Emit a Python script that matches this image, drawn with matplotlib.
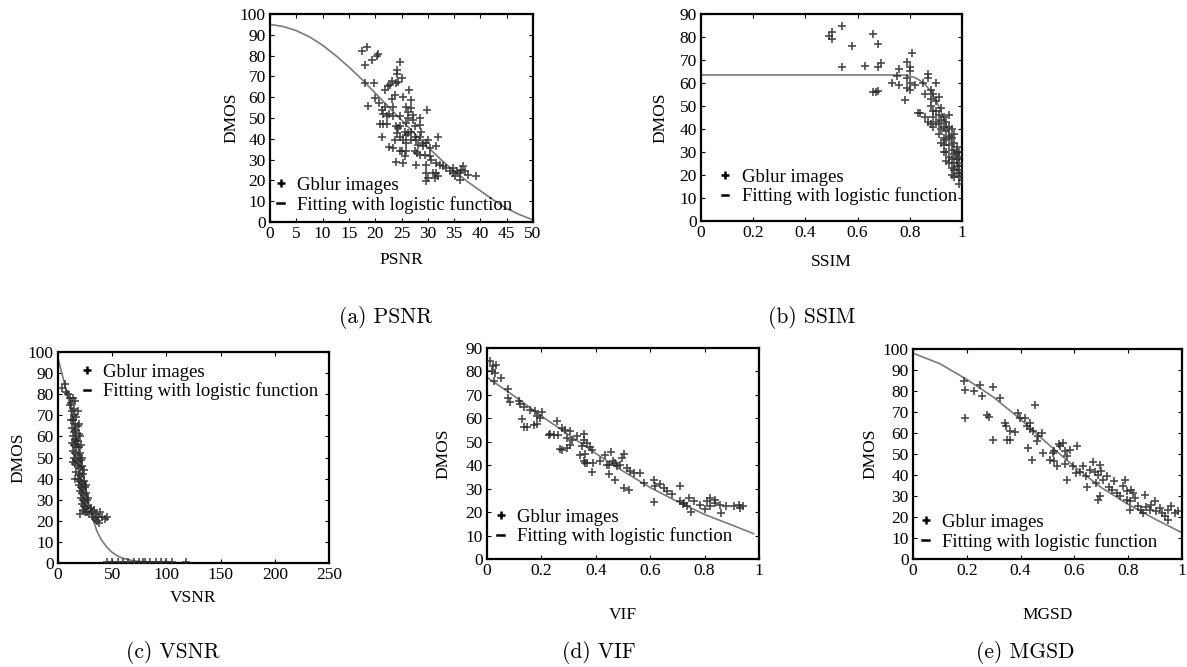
import matplotlib
matplotlib.use('Agg')
import matplotlib.pyplot as plt
from matplotlib.lines import Line2D
from matplotlib.ticker import FuncFormatter

plt.rcParams['font.family'] = ['Liberation Serif', 'DejaVu Serif']
plt.rcParams['font.size'] = 12

# ---------------- data ----------------
psnr_pts = [(17.5,82),(18.4,84.3),(18,75.5),(19.3,78),(20.4,80),(20.6,81),(18,67),(19.7,67),(18.7,56),
            (19.9,59.5),(20.8,57),(21.2,54),(20.9,47),(21.5,47),(21.3,41),(21.4,52),(21.8,55.5),(22.2,51),
            (22.2,47),(21.8,63.5),(22.5,65.5),(22.9,66),(23.1,68),(23.1,59),(23.4,55.5),(23.7,61),(23.9,67),
            (24.1,71),(24.4,67.5),(24.7,77),(24.1,73),(25,69),(25.2,60),(24.7,51),(23.4,51),(22.7,36),
            (23.4,35.5),(23.7,39.5),(24.1,43),(24.4,45),(24.7,46),(24,46),(24.7,41),(25.2,39.5),(25,34),
            (24,29),(25.3,28.6),(25.6,31.5),(25.9,34),(25.8,38),(25.9,42),(25.6,43.5),(26.3,42.7),(25.9,47.5),
            (26.3,50),(25.8,55.5),(26.3,53),(26.9,54.7),(26.5,63.5),(26.9,58.7),(27.2,51.5),(27.2,49),(27.5,46),
            (26.9,43.5),(27.5,41),(27.8,39.5),(26.9,39.5),(28.2,37),(27.5,34),(28,33),(27.8,27.5),(28.5,32.3),
            (28.5,46.7),(28.5,50),(28.8,43.5),(29.1,38),(29.1,36.3),(29.7,38),(29.4,32.3),(29.7,27.5),
            (29.7,23.5),(30,21),(29.7,19.5),(29.9,54),(30,39.5),(30.4,35.5),(30.5,31.5),(30.7,30),(31,23.5),
            (31.3,21),(31.6,23.5),(32,22),(31.6,36.3),(32,41),(31.6,28.3),(32.3,27.5),(32.9,26.7),(33.5,26),
            (34.2,24.3),(34.8,23.5),(35.1,22),(35.6,24.3),(36.1,23.5),(36.4,25),(36.7,26.7),(37,24.3),
            (36.1,20.3),(37.7,22.7),(39.2,22),(34.8,26),(28.5,41),(24.7,34),(22.7,52)]
psnr_fit_x = [0, 2.5, 5, 7.5, 10, 12.5, 15, 17.5, 20, 22.5, 25, 27.5, 30, 32.5, 35, 37.5, 40, 42.5, 45, 47.5, 50]
psnr_fit_y = [95, 94, 92, 89, 85, 80, 74.5, 68.5, 62, 55.5, 49, 42.5, 36, 30, 24.5, 19.5, 15, 10.5, 6.5, 3.5, 1]

ssim_pts = [(0.49,80.5),(0.50,82),(0.50,79),(0.54,85),(0.54,67),(0.58,76),(0.63,67.5),(0.66,81.5),(0.68,77),
            (0.68,67),(0.69,68.5),(0.66,56),(0.67,56),(0.68,56.5),(0.73,60),(0.75,63),(0.76,66),(0.76,59),
            (0.78,52.5),(0.79,62),(0.79,69),(0.80,67),(0.80,65),(0.80,60),(0.81,73),(0.79,58),(0.80,57),
            (0.82,59),(0.83,47),(0.84,47),(0.85,60),(0.86,55),(0.87,62),(0.87,64),(0.88,57),(0.88,50),
            (0.88,53),(0.89,55),(0.89,45),(0.88,42),(0.89,41),(0.90,52),(0.90,48),(0.90,43),(0.91,54),
            (0.91,46),(0.92,49),(0.92,44),(0.92,40),(0.91,38),(0.93,45),(0.93,41),(0.93,36),(0.93,33),
            (0.94,43),(0.94,39),(0.94,35),(0.94,30),(0.95,41),(0.95,37),(0.95,33),(0.95,28),(0.96,40),
            (0.96,36),(0.96,31),(0.96,27),(0.97,34),(0.97,29),(0.97,25),(0.97,22),(0.98,30),(0.98,27),
            (0.98,24),(0.98,21),(0.99,28),(0.99,25),(0.99,22),(0.99,19),(1.0,24),(1.0,21),(1.0,18),
            (0.90,60),(0.92,34),(0.94,26),(0.96,23),(0.95,46),(0.93,30),(0.97,38),(0.98,32),(0.99,30),
            (0.91,42),(0.89,48),(0.87,43),(0.86,45),(0.95,25),(0.96,20),(0.97,19),(0.99,16)]
ssim_fit_x = [0, 0.2, 0.4, 0.6, 0.75, 0.78, 0.80, 0.82, 0.84, 0.86, 0.88, 0.90, 0.92, 0.94, 0.96, 0.98, 1.0]
ssim_fit_y = [63.5, 63.5, 63.5, 63.5, 63.5, 63.4, 63.0, 62.3, 61.0, 59.2, 56.5, 52.5, 47.5, 41.5, 34.5, 26.5, 17]

vsnr_pts = [(4,83),(6,85),(7,81),(9,80),(11,78),(14,78),(16,77),(12,76),(13,72),(15,70),(14,68),(17,69),
            (16,66),(18,65),(13,64),(15,62),(17,63),(19,61),(14,60),(16,59),(18,58),(20,60),(13,57),(15,56),
            (17,55),(19,55),(21,56),(14,53),(16,52),(18,51),(20,52),(15,50),(17,49),(19,48),(21,49),(16,47),
            (18,46),(20,45),(22,46),(17,43),(19,42),(21,41),(23,42),(18,40),(20,39),(22,38),(24,39),(19,37),
            (21,36),(23,35),(25,36),(20,34),(22,33),(24,32),(26,33),(21,31),(23,30),(25,29),(27,30),(22,28),
            (24,27),(26,26),(28,27),(30,26),(23,25),(25,24),(27,24),(29,23),(31,24),(33,25),(35,23),(20,23),
            (37,22),(39,24),(41,22),(43,21),(45,22),(36,20),(34,21),(38,19),(32,22),(17,58),(19,66),(12,68),
            (22,50),(24,44),(26,37),(28,31),(11,75),(15,73),(18,72),(16,40),(14,48),
            (45,0.5),(50,0.5),(55,0.5),(60,0.3),(65,0.5),(70,0.4),(75,0.5),(78,0.3),(80,0.5),(85,0.4),
            (90,0.3),(95,0.5),(100,0.5),(105,0.3),(118,0.4)]
vsnr_fit_x = [0, 3, 6, 9, 12, 15, 18, 21, 24, 27, 30, 33, 36, 40, 45, 50, 55, 60, 70, 80, 100, 120]
vsnr_fit_y = [97, 91, 85, 79, 72, 64, 56, 48, 40, 32, 25, 19.5, 15, 11, 7.5, 5, 3.3, 2.2, 1, 0.5, 0.2, 0.1]

vif_pts = [(0.012,84.6),(0.022,82.2),(0.034,82.9),(0.018,80.3),(0.031,79.3),(0.051,77.2),(0.025,76),
           (0.076,72.6),(0.076,68.7),(0.086,67),(0.116,67.2),(0.123,66.1),(0.135,64.7),(0.159,63.7),
           (0.178,63),(0.202,62.7),(0.184,60.8),(0.196,60.1),(0.129,59.8),(0.135,56.1),(0.147,56.1),
           (0.172,57),(0.184,57.6),(0.227,52.7),(0.245,52.7),(0.257,59),(0.276,55.9),(0.288,55.1),
           (0.304,54.7),(0.294,51.6),(0.313,50.9),(0.276,46.6),(0.294,47.3),(0.306,48.7),(0.331,52.3),
           (0.355,53.3),(0.355,50.9),(0.349,48),(0.368,49.5),(0.377,47.6),(0.386,46.6),(0.343,44.5),
           (0.362,44.8),(0.355,41.6),(0.368,40.9),(0.386,37.1),(0.414,41.6),(0.435,44.5),(0.456,45.6),
           (0.441,40.2),(0.463,41.6),(0.472,40.9),(0.478,39.5),(0.49,40.2),(0.496,43.1),(0.505,44.8),
           (0.515,38.8),(0.527,37.4),(0.539,36.7),(0.447,36.2),(0.472,33.8),(0.502,30.3),(0.521,29.5),
           (0.564,36.7),(0.576,32.4),(0.613,33.8),(0.619,31),(0.637,32),(0.65,30.3),(0.662,28.8),
           (0.68,27.7),(0.711,31),(0.613,24.3),(0.711,24.6),(0.723,23.9),(0.741,26),(0.76,24.6),
           (0.784,23.1),(0.809,24.9),(0.821,26),(0.839,25.3),(0.858,23.1),(0.907,22.4),(0.925,22.9),
           (0.735,22.4),(0.75,20),(0.80,21.5),(0.86,19.8),(0.88,22.5),(0.93,21.8),(0.94,22.5),(0.72,23.5),
           (0.84,24),(0.82,22.5),(0.27,47),(0.23,53.5),(0.26,53),(0.39,41),(0.36,41),(0.45,40)]
vif_fit_x = [0, 0.1, 0.2, 0.3, 0.4, 0.5, 0.6, 0.7, 0.8, 0.9, 0.98]
vif_fit_y = [77.5, 69.5, 61, 53, 45, 37.5, 30.5, 24.5, 19, 14.5, 10.8]

mgsd_pts = [(0.19,85),(0.194,80.6),(0.225,79.8),(0.25,82.7),(0.256,77.5),(0.299,81.9),(0.324,76.7),
            (0.194,67.1),(0.274,68.7),(0.284,67.6),(0.299,56.8),(0.342,64.8),(0.346,63.2),(0.349,56.8),
            (0.359,56.5),(0.361,60.8),(0.379,60.3),(0.392,69.5),(0.398,67.1),(0.417,67.1),(0.423,63.2),
            (0.435,64.8),(0.435,61.9),(0.454,73.5),(0.447,60.8),(0.46,56),(0.466,58.4),(0.429,52.9),
            (0.441,47),(0.478,60),(0.485,50.5),(0.509,47.3),(0.522,50.5),(0.525,46.5),(0.534,44.4),
            (0.525,51.3),(0.541,54.9),(0.546,53.7),(0.559,55.2),(0.566,51.3),(0.574,48.9),(0.566,45.4),
            (0.574,37.5),(0.583,51.7),(0.596,44.1),(0.606,41),(0.61,53.7),(0.62,41.3),(0.633,44.1),
            (0.643,39.4),(0.645,34.3),(0.658,42.5),(0.67,46),(0.676,41.3),(0.682,36.2),(0.689,40.2),
            (0.697,44.9),(0.7,41.7),(0.707,37.5),(0.689,28.3),(0.695,29.8),(0.72,39.4),(0.729,34.3),
            (0.738,33),(0.747,37),(0.757,31.4),(0.769,29.8),(0.781,34.6),(0.787,37.5),(0.794,32.2),
            (0.806,27.5),(0.812,33),(0.818,31.4),(0.825,29),(0.794,28.3),(0.837,25.4),(0.846,23.5),
            (0.862,30.6),(0.868,24.8),(0.88,23.5),(0.886,25.9),(0.899,27.5),(0.905,22.7),(0.917,24.3),
            (0.927,21.9),(0.936,20.3),(0.948,23.5),(0.96,25.1),(0.973,21.9),(0.985,22.7),(0.948,18.7),
            (0.806,23.5),(0.856,21.9)]
mgsd_fit_x = [0, 0.1, 0.2, 0.3, 0.4, 0.5, 0.6, 0.7, 0.8, 0.9, 1.0]
mgsd_fit_y = [98, 93, 85.5, 77, 66.5, 55, 44, 34, 26, 19, 12.5]

legend_labels = ['Gblur images', 'Fitting with logistic function']
captions = ['(a) PSNR', '(b) SSIM', '(c) VSNR', '(d) VIF', '(e) MGSD']

# ---------------- layout ----------------
W, H = 1187, 667
fig = plt.figure(figsize=(W / 100, H / 100), dpi=100)

def rect(x0, y0, x1, y1):
    return [x0 / W, 1 - y1 / H, (x1 - x0) / W, (y1 - y0) / H]

panels = [
    dict(r=rect(270, 14, 533, 222), pts=psnr_pts, fx=psnr_fit_x, fy=psnr_fit_y, xlim=(0, 50), ylim=(0, 100),
         xt=list(range(0, 51, 5)), yt=list(range(0, 101, 10)), xl='PSNR', xpad=7, ypad=0,
         leg=('lower left', (0.028, 0.04)), cap=(386, 318)),
    dict(r=rect(701, 14, 962, 221), pts=ssim_pts, fx=ssim_fit_x, fy=ssim_fit_y, xlim=(0, 1), ylim=(0, 90),
         xt=[0, 0.2, 0.4, 0.6, 0.8, 1], yt=list(range(0, 91, 10)), xl='SSIM', xpad=9, ypad=8,
         leg=('lower left', (0.08, 0.075)), cap=(812, 318)),
    dict(r=rect(58, 352, 329, 563), pts=vsnr_pts, fx=vsnr_fit_x, fy=vsnr_fit_y, xlim=(0, 250), ylim=(0, 100),
         xt=list(range(0, 251, 50)), yt=list(range(0, 101, 10)), xl='VSNR', xpad=5, ypad=1,
         leg=('upper left', (0.095, 0.945)), cap=(173, 652)),
    dict(r=rect(487, 348, 759, 559), pts=vif_pts, fx=vif_fit_x, fy=vif_fit_y, xlim=(0, 1), ylim=(0, 90),
         xt=[0, 0.2, 0.4, 0.6, 0.8, 1], yt=list(range(0, 91, 10)), xl='VIF', xpad=20, ypad=10,
         leg=('lower left', (0.038, 0.065)), cap=(599, 652)),
    dict(r=rect(913, 349, 1182, 559), pts=mgsd_pts, fx=mgsd_fit_x, fy=mgsd_fit_y, xlim=(0, 1), ylim=(0, 100),
         xt=[0, 0.2, 0.4, 0.6, 0.8, 1], yt=list(range(0, 101, 10)), xl='MGSD', xpad=20, ypad=3,
         leg=('lower left', (0.035, 0.04)), cap=(1025, 652)),
]

fmt = FuncFormatter(lambda v, p: '%g' % v)

for i, p in enumerate(panels):
    ax = fig.add_axes(p['r'])
    xs = [q[0] for q in p['pts']]
    ys = [q[1] for q in p['pts']]
    ax.plot(p['fx'], p['fy'], color='#7a7a7a', lw=1.2, zorder=2)
    ax.plot(xs, ys, ls='none', marker='+', ms=6, mew=1.2, color='#2a2a2a', alpha=0.85, zorder=3)
    ax.set_xlim(*p['xlim'])
    ax.set_ylim(*p['ylim'])
    ax.set_xticks(p['xt'])
    ax.set_yticks(p['yt'])
    ax.xaxis.set_major_formatter(fmt)
    ax.yaxis.set_major_formatter(fmt)
    ax.tick_params(direction='in', length=3, width=0.8, top=True, right=True, pad=3, labelsize=12.5)
    for s in ax.spines.values():
        s.set_linewidth(1.6)
    ax.set_xlabel(p['xl'], fontsize=12.5, labelpad=p['xpad'])
    ax.set_ylabel('DMOS', fontsize=12.5, labelpad=p['ypad'])
    h1 = Line2D([], [], ls='none', marker='+', ms=6, mew=1.8, color='black')
    h2 = Line2D([], [], color='black', lw=1.8)
    loc, anchor = p['leg']
    ax.legend([h1, h2], legend_labels, loc=loc, bbox_to_anchor=anchor, frameon=False, fontsize=13.5,
              handlelength=0.35, handletextpad=0.7, labelspacing=0.1, borderpad=0, borderaxespad=0,
              numpoints=1)
    cx, cy = p['cap']
    fig.text(cx / W, 1 - cy / H, captions[i], ha='center', va='center', fontsize=15.5, family='cmr10')

fig.savefig('out.png', dpi=100)
